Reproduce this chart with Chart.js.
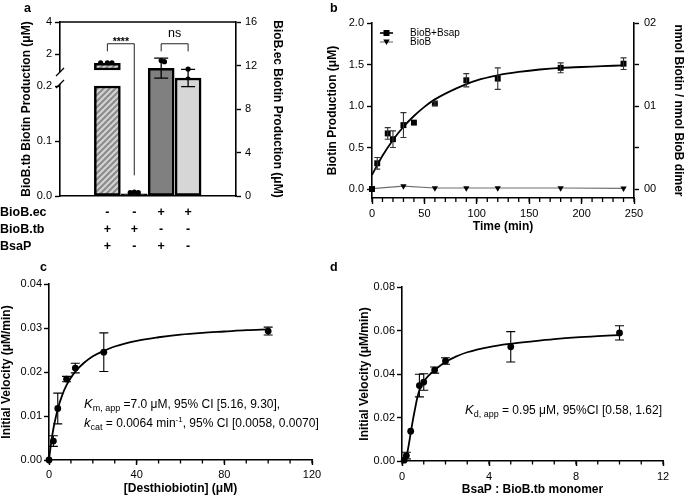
<!DOCTYPE html>
<html>
<head>
<meta charset="utf-8">
<script src="https://cdn.jsdelivr.net/npm/chart.js@4.4.1/dist/chart.umd.min.js"></script>
<style>
html,body{margin:0;padding:0;background:#fff;}
body{width:685px;height:496px;position:relative;overflow:hidden;font-family:"Liberation Sans",Arial,sans-serif;}
canvas{position:absolute;left:0;top:0;}
.pl{position:absolute;font-weight:bold;font-size:12.5px;line-height:14px;color:#000;}
</style>
</head>
<body>
<canvas id="ca" width="685" height="496"></canvas>
<canvas id="cb" width="685" height="496"></canvas>
<canvas id="cc" width="685" height="496"></canvas>
<canvas id="cd" width="685" height="496"></canvas>
<div class="pl" style="left:24px;top:1px">a</div>
<div class="pl" style="left:330px;top:1px">b</div>
<div class="pl" style="left:40px;top:260px">c</div>
<div class="pl" style="left:330px;top:260px">d</div>
<script>
// ===================== DATA =====================
// Panel a
const aConditions = [1, 2, 3, 4];
const aRowNames = ['BioB.ec', 'BioB.tb', 'BsaP'];
const aRowSigns = [['-', '-', '+', '+'], ['+', '+', '-', '-'], ['+', '-', '+', '-']];
const aLeftTicks = [0, 0.1, 0.2, 2, 4];
const aLeftTickLabels = ['0.0', '0.1', '0.2', '2', '4'];
const aRightTicks = [0, 4, 8, 12, 16];
const aTbMeans = [1.42, 0.004];              // BioB.tb conditions 1-2 (left axis, μM)
const aTbReps = [[1.44, 1.45, 1.44], [0.006, 0.007, 0.006]];
const aEcMeans = [11.75, 10.85];             // BioB.ec conditions 3-4 (right axis, μM)
const aEcSD = [0.92, 0.80];
const aEcReps = [[12.45, 12.35, 10.55], [11.68, 10.2, 10.75]];
const aRepOffsets = [[-0.25, 0, 0.17], [-0.15, 0, 0.15], [0, 0.12, 0.01], [0, 0, 0]];
const aBrackets = [
  {from: 1, to: 2, text: '****', top: 14.0, leftEnd: 13.3, rightEnd: 1.9},
  {from: 3, to: 4, text: 'ns', top: 14.0, leftEnd: 13.3, rightEnd: 13.3}
];

// Panel b
const bTime = [0, 5, 15, 20, 30, 40, 60, 90, 120, 180, 240];
const bBsap = [0, 0.31, 0.67, 0.60, 0.77, 0.80, 1.03, 1.31, 1.33, 1.46, 1.51];
const bBsapSD = [0, 0.07, 0.07, 0.10, 0.15, 0, 0.02, 0.08, 0.13, 0.06, 0.07];
const bBioBTime = [0, 30, 60, 90, 120, 180, 240];
const bBioB = [0.005, 0.035, 0.012, 0.012, 0.012, 0.012, 0.008];
const bFitTime = [0, 10, 20, 30, 40, 50, 60, 80, 100, 120, 140, 160, 180, 200, 220, 240];
const bFit = [0.17, 0.40, 0.59, 0.75, 0.88, 0.99, 1.08, 1.21, 1.31, 1.37, 1.41, 1.44, 1.46, 1.47, 1.48, 1.49];
const bLeftTicks = [0, 0.5, 1.0, 1.5, 2.0];
const bRightTicks = [0, 0.5, 1.0, 1.5, 2.0];
const bRightLabels = ['00', '', '01', '', '02'];
const bXTicks = [0, 50, 100, 150, 200, 250];

// Panel c
const cSubstrate = [0, 2, 4, 8, 12, 25, 100];
const cVelocity = [0, 0.0043, 0.0117, 0.0184, 0.0209, 0.0245, 0.0293];
const cSD = [0, 0.0012, 0.0035, 0.0006, 0.0011, 0.0044, 0.0009];
const cFitS = [0, 1, 2, 3, 4, 6, 8, 10, 12, 16, 20, 25, 30, 40, 50, 60, 70, 80, 90, 100];
const cFitV = [0, 0.0040, 0.0071, 0.0095, 0.0116, 0.0147, 0.0170, 0.0187, 0.0201, 0.0221, 0.0236, 0.0248, 0.0258, 0.0271, 0.0279, 0.0285, 0.0289, 0.0292, 0.0295, 0.0297];
const cXTicks = [0, 40, 80, 120];
const cYTicks = [0, 0.01, 0.02, 0.03, 0.04];

// Panel d
const dRatio = [0.1, 0.2, 0.4, 0.8, 1.0, 1.5, 2.0, 5.0, 10.0];
const dVelocity = [0.0004, 0.0025, 0.0137, 0.0347, 0.0363, 0.0418, 0.0460, 0.0525, 0.0589];
const dSD = [0, 0.0015, 0, 0.0052, 0.0038, 0.0014, 0.0015, 0.0070, 0.0033];
const dFitX = [0.1, 0.2, 0.3, 0.4, 0.5, 0.6, 0.7, 0.8, 1.0, 1.25, 1.5, 2.0, 2.5, 3, 4, 5, 6, 7, 8, 9, 10];
const dFitV = [0, 0.0018, 0.0068, 0.0128, 0.0188, 0.0240, 0.0290, 0.0325, 0.0365, 0.0395, 0.0418, 0.0455, 0.0481, 0.0500, 0.0524, 0.0539, 0.0550, 0.0560, 0.0568, 0.0574, 0.0579];
const dXTicks = [0, 4, 8, 12];
const dYTicks = [0, 0.02, 0.04, 0.06, 0.08];

// ===================== SETUP =====================
const FONT = '"Liberation Sans", Arial, Helvetica, sans-serif';
const TITLE_SIZE = 12;
Chart.defaults.font.family = FONT;
Chart.defaults.font.size = 11;
Chart.defaults.color = '#000';
Chart.defaults.animation = false;
Chart.defaults.responsive = false;
Chart.defaults.maintainAspectRatio = false;
Chart.defaults.events = [];
Chart.defaults.plugins.legend.display = false;
Chart.defaults.plugins.tooltip.enabled = false;

class BrokenScale extends Chart.LinearScale {
  static id = 'broken';
  static defaults = {};
  _dec(v) {
    const o = this.options;
    const lo = o.breakLow, hi = o.breakHigh, fLo = o.breakFracLow, fHi = o.breakFracHigh;
    const min = this.min, max = this.max;
    if (v <= lo) return (v - min) / (lo - min) * fLo;
    if (v >= hi) return fHi + (v - hi) / (max - hi) * (1 - fHi);
    return fLo + (v - lo) / (hi - lo) * (fHi - fLo);
  }
  getPixelForValue(v) { return this.getPixelForDecimal(this._dec(v)); }
  getValueForPixel(p) {
    const o = this.options, d = this.getDecimalForPixel(p);
    const lo = o.breakLow, hi = o.breakHigh, fLo = o.breakFracLow, fHi = o.breakFracHigh;
    if (d <= fLo) return this.min + d / fLo * (lo - this.min);
    if (d >= fHi) return hi + (d - fHi) / (1 - fHi) * (this.max - hi);
    return lo + (d - fLo) / (fHi - fLo) * (hi - lo);
  }
  buildTicks() { return []; }
}
Chart.register(BrokenScale);

function setTicks(arr) { return s => { s.ticks = arr.map(v => ({value: v})); }; }

function axis(o) {
  const r = Object.assign({
    border: {display: true, color: '#000', width: 1.6},
    grid: {display: true, drawOnChartArea: false, drawTicks: true, tickLength: 5, tickColor: '#000', tickWidth: 1.4}
  }, o);
  r.ticks = Object.assign({color: '#000', font: {size: 11, family: FONT}, padding: 3}, o.ticks || {});
  r.title = o.title ? Object.assign({display: true, color: '#000', padding: 0,
    font: {size: TITLE_SIZE, weight: 'bold', family: FONT, lineHeight: 1}}, o.title) : {display: false};
  return r;
}

function errorBars(dsIndex, values, errors, cap, color, width) {
  return {
    id: 'err' + dsIndex,
    afterDatasetsDraw(chart) {
      const meta = chart.getDatasetMeta(dsIndex);
      const ys = chart.scales[meta.yAxisID];
      const ctx = chart.ctx;
      ctx.save();
      ctx.strokeStyle = color || '#000';
      ctx.lineWidth = width || 1.2;
      meta.data.forEach((el, i) => {
        const e = errors[i];
        if (!e) return;
        const x = el.x;
        const y1 = ys.getPixelForValue(values[i] + e), y2 = ys.getPixelForValue(values[i] - e);
        ctx.beginPath();
        ctx.moveTo(x, y1); ctx.lineTo(x, y2);
        ctx.moveTo(x - cap, y1); ctx.lineTo(x + cap, y1);
        ctx.moveTo(x - cap, y2); ctx.lineTo(x + cap, y2);
        ctx.stroke();
      });
      ctx.restore();
    }
  };
}

function minorTicks(scaleId, step, len) {
  return {
    id: 'minor' + scaleId,
    afterDraw(chart) {
      const s = chart.scales[scaleId], ctx = chart.ctx;
      ctx.save();
      ctx.strokeStyle = '#000'; ctx.lineWidth = 1.3;
      ctx.beginPath();
      for (let v = s.min; v <= s.max + 1e-9; v += step) {
        const x = s.getPixelForValue(v);
        ctx.moveTo(x, s.top); ctx.lineTo(x, s.top + len);
      }
      ctx.stroke();
      ctx.restore();
    }
  };
}

function richText(ctx, x, y, segs) {
  ctx.save();
  ctx.fillStyle = '#000';
  ctx.textBaseline = 'alphabetic';
  ctx.textAlign = 'left';
  for (const s of segs) {
    ctx.font = (s.italic ? 'italic ' : '') + s.size + 'px ' + FONT;
    ctx.fillText(s.t, x, y + (s.dy || 0));
    x += ctx.measureText(s.t).width;
  }
  ctx.restore();
}

function makeHatch() {
  const s = 6, c = document.createElement('canvas');
  c.width = s; c.height = s;
  const g = c.getContext('2d');
  g.fillStyle = '#d4d4d4'; g.fillRect(0, 0, s, s);
  g.strokeStyle = '#8c8c8c'; g.lineWidth = 2.2;
  g.beginPath();
  g.moveTo(-1, s + 1); g.lineTo(s + 1, -1);
  g.moveTo(-2, 2); g.lineTo(2, -2);
  g.moveTo(s - 2, s + 2); g.lineTo(s + 2, s - 2);
  g.stroke();
  return g.createPattern(c, 'repeat');
}

// ===================== PANEL A =====================
(function () {
  const hatch = makeHatch();
  const fills = [hatch, '#000', '#808080', '#d6d6d6'];
  const breakLow = 0.2, breakHigh = 1;
  const tbBars = [], tbFill = [];
  aTbMeans.forEach((v, i) => {
    const x = aConditions[i];
    if (v > breakHigh) {
      tbBars.push({x: x, y: [0, breakLow]}, {x: x, y: [breakHigh, v]});
      tbFill.push(fills[i], fills[i]);
    } else {
      tbBars.push({x: x, y: [0, v]});
      tbFill.push(fills[i]);
    }
  });
  const ecBars = aEcMeans.map((v, i) => ({x: aConditions[i + 2], y: v}));
  const tbDots = [], ecDots = [];
  aTbReps.forEach((reps, i) => reps.forEach((v, j) => tbDots.push({x: aConditions[i] + aRepOffsets[i][j], y: v})));
  aEcReps.forEach((reps, i) => reps.forEach((v, j) => ecDots.push({x: aConditions[i + 2] + aRepOffsets[i + 2][j], y: v})));

  const deco = {
    id: 'decoA',
    afterDraw(chart) {
      const ctx = chart.ctx, a = chart.chartArea;
      const yL = chart.scales.yL, yR = chart.scales.yR, x = chart.scales.x;
      ctx.save();
      // top frame line
      ctx.strokeStyle = '#000'; ctx.lineWidth = 1.6;
      ctx.beginPath(); ctx.moveTo(a.left, a.top); ctx.lineTo(a.right, a.top); ctx.stroke();
      // axis break
      const yHi = yL.getPixelForValue(breakHigh), yLo = yL.getPixelForValue(breakLow);
      ctx.fillStyle = '#fff';
      ctx.fillRect(a.left - 2, yHi + 2, 4, yLo - yHi - 4);
      ctx.lineWidth = 1.3;
      ctx.beginPath();
      [yHi + 2, yLo - 2].forEach(y => { ctx.moveTo(a.left - 4, y + 4); ctx.lineTo(a.left + 4, y - 4); });
      ctx.stroke();
      // significance brackets
      ctx.strokeStyle = '#222'; ctx.lineWidth = 1;
      ctx.fillStyle = '#000'; ctx.textAlign = 'center'; ctx.textBaseline = 'alphabetic';
      aBrackets.forEach(b => {
        const x1 = x.getPixelForValue(b.from), x2 = x.getPixelForValue(b.to);
        const yt = yR.getPixelForValue(b.top);
        ctx.beginPath();
        ctx.moveTo(x1, yR.getPixelForValue(b.leftEnd)); ctx.lineTo(x1, yt);
        ctx.lineTo(x2, yt); ctx.lineTo(x2, yR.getPixelForValue(b.rightEnd));
        ctx.stroke();
        if (b.text === 'ns') { ctx.font = '12.5px ' + FONT; ctx.fillText(b.text, (x1 + x2) / 2, yt - 7); }
        else { ctx.font = 'bold 10.5px ' + FONT; ctx.fillText(b.text, (x1 + x2) / 2, yt + 1); }
      });
      // condition table
      ctx.font = 'bold 12.5px ' + FONT; ctx.textBaseline = 'middle';
      const rowY = [213, 230, 247];
      aRowNames.forEach((name, r) => {
        ctx.textAlign = 'left';
        ctx.fillText(name, 0, rowY[r]);
        ctx.textAlign = 'center';
        aRowSigns[r].forEach((s, i) => ctx.fillText(s, x.getPixelForValue(aConditions[i]), rowY[r]));
      });
      ctx.restore();
    }
  };

  new Chart(document.getElementById('ca'), {
    type: 'bar',
    data: {
      datasets: [
        {label: 'BioB.tb', type: 'bar', xAxisID: 'x', yAxisID: 'yL', data: tbBars, backgroundColor: tbFill,
         borderColor: '#000', borderWidth: 2.5, borderSkipped: false, barThickness: 26, grouped: false},
        {label: 'BioB.ec', type: 'bar', xAxisID: 'x', yAxisID: 'yR', data: ecBars, backgroundColor: [fills[2], fills[3]],
         borderColor: '#000', borderWidth: 2.5, borderSkipped: false, barThickness: 26, grouped: false},
        {label: 'BioB.tb replicates', type: 'scatter', xAxisID: 'x', yAxisID: 'yL', data: tbDots,
         pointRadius: 2.6, pointBackgroundColor: '#000', pointBorderWidth: 0, clip: false},
        {label: 'BioB.ec replicates', type: 'scatter', xAxisID: 'x', yAxisID: 'yR', data: ecDots,
         pointRadius: 2.6, pointBackgroundColor: '#000', pointBorderWidth: 0, clip: false}
      ]
    },
    options: {
      layout: {padding: {left: 21, right: 402, top: 22, bottom: 299}},
      scales: {
        x: {type: 'linear', min: 0.33, max: 4.69, position: 'bottom',
            grid: {display: false}, ticks: {display: false},
            border: {display: true, color: '#000', width: 1.6},
            afterFit: s => { s.height = 1; }},
        yL: axis({type: 'broken', position: 'left', min: 0, max: 4,
            breakLow: breakLow, breakHigh: breakHigh, breakFracLow: 110 / 174, breakFracHigh: 126 / 174,
            afterBuildTicks: setTicks(aLeftTicks),
            ticks: {callback: (v, i) => aLeftTickLabels[i], padding: 3},
            title: {text: 'BioB.tb Biotin Production (μM)'},
            afterFit: s => { s.width = 39; }}),
        yR: axis({type: 'linear', position: 'right', min: 0, max: 16,
            afterBuildTicks: setTicks(aRightTicks),
            ticks: {callback: v => String(v), padding: 4},
            title: {text: 'BioB.ec Biotin Production (μM)'},
            afterFit: s => { s.width = 47; }})
      }
    },
    plugins: [errorBars(1, aEcMeans, aEcSD, 7, '#000', 1.3), deco]
  });
})();

// ===================== PANEL B =====================
(function () {
  const legend = {
    id: 'legendB',
    afterDraw(chart) {
      const ctx = chart.ctx;
      ctx.save();
      ctx.font = '10px ' + FONT; ctx.textBaseline = 'middle'; ctx.textAlign = 'left'; ctx.fillStyle = '#000';
      let y = 33;
      ctx.strokeStyle = '#000'; ctx.lineWidth = 1.6;
      ctx.beginPath(); ctx.moveTo(380, y); ctx.lineTo(393, y); ctx.stroke();
      ctx.fillRect(383.5, y - 3, 6, 6);
      ctx.fillText(chart.data.datasets[0].label, 410, y);
      y = 42;
      ctx.strokeStyle = '#6e6e6e'; ctx.lineWidth = 1.1;
      ctx.beginPath(); ctx.moveTo(380, y); ctx.lineTo(393, y); ctx.stroke();
      ctx.beginPath(); ctx.moveTo(383.3, y - 2.5); ctx.lineTo(389.7, y - 2.5); ctx.lineTo(386.5, y + 3); ctx.closePath(); ctx.fill();
      ctx.fillText(chart.data.datasets[2].label, 410, y);
      ctx.restore();
    }
  };
  new Chart(document.getElementById('cb'), {
    type: 'line',
    data: {
      datasets: [
        {label: 'BioB+Bsap', data: bTime.map((t, i) => ({x: t, y: bBsap[i]})), showLine: false,
         pointStyle: 'rect', pointRadius: 4.2, pointBackgroundColor: '#000', pointBorderWidth: 0, clip: false},
        {label: 'BioB+Bsap fit', data: bFitTime.map((t, i) => ({x: t, y: bFit[i]})), borderColor: '#000',
         borderWidth: 1.8, pointRadius: 0, cubicInterpolationMode: 'monotone', fill: false},
        {label: 'BioB', data: bBioBTime.map((t, i) => ({x: t, y: bBioB[i]})), borderColor: '#6e6e6e', borderWidth: 1.1,
         pointStyle: 'triangle', pointRotation: 180, pointRadius: 3.6, pointBackgroundColor: '#000',
         pointBorderWidth: 0, tension: 0, clip: false}
      ]
    },
    options: {
      layout: {padding: {left: 327, right: 1, top: 23, bottom: 263}},
      scales: {
        x: axis({type: 'linear', min: 0, max: 250, grid: {display: true, drawOnChartArea: false, drawTicks: true, tickLength: 6, tickColor: '#000', tickWidth: 1.4},
            afterBuildTicks: setTicks(bXTicks), ticks: {padding: 3, callback: v => String(v)},
            title: {text: 'Time (min)'},
            afterFit: s => { s.height = 35; }}),
        y: axis({type: 'linear', position: 'left', min: -0.108, max: 2,
            afterBuildTicks: setTicks(bLeftTicks), ticks: {padding: 3, callback: v => v.toFixed(1)},
            title: {text: 'Biotin Production (μM)'},
            afterFit: s => { s.width = 45; }}),
        y2: axis({type: 'linear', position: 'right', min: -0.108, max: 2,
            afterBuildTicks: setTicks(bRightTicks), ticks: {padding: 5, callback: (v, i) => bRightLabels[i]},
            title: {text: 'nmol Biotin / nmol BioB dimer'},
            afterFit: s => { s.width = 50; }})
      }
    },
    plugins: [errorBars(0, bBsap, bBsapSD, 3, '#333', 1.1), minorTicks('x', 10, 4), legend]
  });
})();

// ===================== PANEL C =====================
(function () {
  const note = {
    id: 'noteC',
    afterDraw(chart) {
      const ctx = chart.ctx;
      richText(ctx, 84, 408, [{t: 'K', size: 13, italic: true}, {t: 'm, app', size: 9, dy: 3}, {t: ' =7.0 μM, 95% CI [5.16, 9.30],', size: 12}]);
      richText(ctx, 84, 427, [{t: 'k', size: 13, italic: true}, {t: 'cat', size: 9, dy: 3}, {t: ' = 0.0064 min', size: 12},
        {t: '-1', size: 8, dy: -5}, {t: ', 95% CI [0.0058, 0.0070]', size: 12}]);
    }
  };
  new Chart(document.getElementById('cc'), {
    type: 'line',
    data: {
      datasets: [
        {label: 'Initial velocity', data: cSubstrate.map((s, i) => ({x: s, y: cVelocity[i]})), showLine: false,
         pointRadius: 3.4, pointBackgroundColor: '#000', pointBorderWidth: 0, clip: false},
        {label: 'Michaelis-Menten fit', data: cFitS.map((s, i) => ({x: s, y: cFitV[i]})), borderColor: '#000',
         borderWidth: 1.8, pointRadius: 0, cubicInterpolationMode: 'monotone', fill: false}
      ]
    },
    options: {
      layout: {padding: {left: 1, right: 373, top: 284, bottom: 1}},
      scales: {
        x: axis({type: 'linear', min: 0, max: 120, afterBuildTicks: setTicks(cXTicks),
            ticks: {padding: 3.4, callback: v => String(v)},
            title: {text: '[Desthiobiotin] (μM)'},
            afterFit: s => { s.height = 35; }}),
        y: axis({type: 'linear', position: 'left', min: 0, max: 0.04, afterBuildTicks: setTicks(cYTicks),
            ticks: {padding: 2, callback: v => v.toFixed(2)},
            title: {text: 'Initial Velocity (μM/min)'},
            afterFit: s => { s.width = 48; }})
      }
    },
    plugins: [errorBars(0, cVelocity, cSD, 4.5, '#000', 1.1), minorTicks('x', 10, 3.5), note]
  });
})();

// ===================== PANEL D =====================
(function () {
  const note = {
    id: 'noteD',
    afterDraw(chart) {
      richText(chart.ctx, 465, 414, [{t: 'K', size: 13, italic: true}, {t: 'd, app', size: 9, dy: 3}, {t: ' = 0.95 μM, 95%CI [0.58, 1.62]', size: 12}]);
    }
  };
  new Chart(document.getElementById('cd'), {
    type: 'line',
    data: {
      datasets: [
        {label: 'Initial velocity', data: dRatio.map((r, i) => ({x: r, y: dVelocity[i]})), showLine: false,
         pointRadius: 3.4, pointBackgroundColor: '#000', pointBorderWidth: 0, clip: false},
        {label: 'Binding fit', data: dFitX.map((r, i) => ({x: r, y: dFitV[i]})), borderColor: '#000',
         borderWidth: 1.8, pointRadius: 0, cubicInterpolationMode: 'monotone', fill: false}
      ]
    },
    options: {
      layout: {padding: {left: 359, right: 22, top: 287, bottom: 0}},
      scales: {
        x: axis({type: 'linear', min: 0, max: 12, afterBuildTicks: setTicks(dXTicks),
            ticks: {padding: 4.4, callback: v => String(v)},
            title: {text: 'BsaP : BioB.tb monomer'},
            afterFit: s => { s.height = 35; }}),
        y: axis({type: 'linear', position: 'left', min: 0, max: 0.08, afterBuildTicks: setTicks(dYTicks),
            ticks: {padding: 2, callback: v => v.toFixed(2)},
            title: {text: 'Initial Velocity (μM/min)'},
            afterFit: s => { s.width = 43; }})
      }
    },
    plugins: [errorBars(0, dVelocity, dSD, 4.5, '#000', 1.1), minorTicks('x', 1, 3.5), note]
  });
})();
</script>
</body>
</html>
